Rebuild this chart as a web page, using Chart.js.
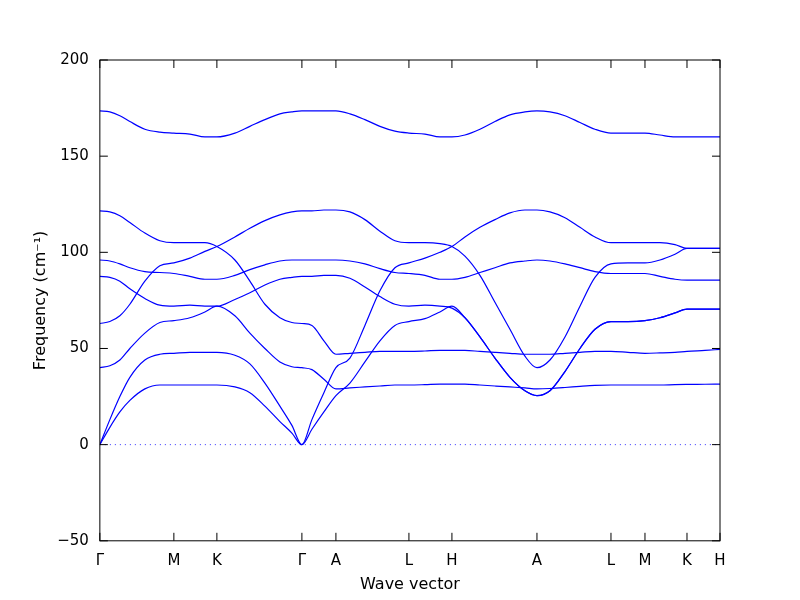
<!DOCTYPE html>
<html>
<head>
<meta charset="utf-8">
<script src="https://cdn.jsdelivr.net/npm/chart.js@4.4.0/dist/chart.umd.min.js"></script>
<style>
  html, body { margin: 0; padding: 0; background: #fff; }
  #wrap { width: 800px; height: 600px; }
</style>
</head>
<body>
<div id="wrap"><canvas id="bands"></canvas></div>
<script>
// high symmetry points along the path (x in path units)
const tickPos = [0, 74, 117, 202, 236, 309, 352, 437, 511, 545, 587, 620]
const tickLabels = ['Γ', 'M', 'K', 'Γ', 'A', 'L', 'H', 'A', 'L', 'M', 'K', 'H']

// sample positions along the path
const xs = [0, 10, 20, 30, 45, 60, 74, 90, 105, 117, 135, 150, 165, 180, 192, 202,
    212, 224, 236, 250, 265, 280, 295, 309, 325, 340, 352, 365, 380, 395, 410, 425, 437,
    450, 465, 480, 495, 511, 528, 545, 560, 575, 587, 605, 620]

// frequencies (cm^-1) for each band at xs
const band1 = [173.5, 173, 171, 168, 164, 162.5, 162, 161.5, 160, 160, 162, 165.5, 169, 172, 173, 173.5,
    173.5, 173.5, 173.5, 172, 169, 165.5, 163, 162, 161.5, 160, 160, 161, 164, 168, 171.5, 173, 173.5,
    173, 171, 167.5, 164, 162, 162, 162, 161, 160, 160, 160, 160]
const band2 = [121.5, 121, 119, 115.5, 110, 106, 105, 105, 105, 103, 96, 85, 73, 66, 63.5, 63,
    62, 54, 47, 47.5, 48, 48.5, 48.5, 48.5, 48.7, 49, 49, 49, 48.5, 48, 47.5, 47, 47,
    47, 47.5, 48, 48.5, 48.5, 48, 47.5, 47.7, 48, 48.5, 49, 49.5]
const band3 = [63, 64, 67, 73, 85, 93, 94.5, 97, 100.5, 103, 108, 112.5, 116.5, 119.5, 121, 121.5,
    121.5, 122, 122, 121, 117, 111, 106, 105, 105, 104.5, 103, 98, 88, 74, 60, 46, 40,
    44, 56, 72, 87, 94, 94.5, 94.5, 96, 99, 102, 102, 102]
const band4 = [96, 95.5, 94, 92, 90, 89.5, 89, 87.5, 86, 86, 88, 91, 93.5, 95.5, 96, 96,
    96, 96, 96, 95.5, 94, 91.5, 89.5, 89, 88, 86, 86, 87, 89.5, 92, 94.5, 95.5, 96,
    95.5, 94, 92, 90, 89, 89, 89, 87.5, 86, 85.5, 85.5, 85.5]
const band5 = [87.5, 87, 85, 81, 76, 72.5, 72, 72.5, 72, 72, 75.5, 79, 83, 86, 87, 87.5,
    87.5, 88, 88, 86.5, 82, 77, 73, 72, 72.5, 72, 71, 66, 56, 45, 35, 28, 25.5,
    28, 38, 50, 60, 64, 64, 64.5, 66, 68.5, 70.5, 70.5, 70.5]
const band6 = [40, 41, 44, 50, 58, 63.5, 64.5, 66, 69, 72, 67, 58, 50, 43, 40.5, 40,
    39, 34, 29, 29.5, 30, 30.5, 31, 31, 31.2, 31.5, 31.5, 31.5, 31, 30.5, 30, 29.5, 29,
    29.2, 29.7, 30.3, 30.8, 31, 31, 31, 31, 31.2, 31.3, 31.4, 31.5]
const acoustic1 = [0, 9, 17, 23, 29, 31, 31, 31, 31, 31, 30, 27, 20, 12, 6, 0,
    8, 17, 25.5, 32, 43, 54, 62, 64, 65.5, 69, 72, 66, 56, 45, 35, 28, 25.5,
    28, 38, 50, 60, 64, 64, 64.5, 66, 68.5, 70.5, 70.5, 70.5]
const acoustic2 = [0, 13, 25, 35, 44, 47, 47.5, 48, 48, 48, 46.5, 42, 32, 20, 10, 0,
    13, 27, 40, 45, 62, 80, 92, 94.5, 97, 100, 103, 108, 113, 117, 120.5, 122, 122,
    121, 118, 113, 108, 105, 105, 105, 105, 104, 102, 102, 102]

const bands = [band1, band2, band3, band4, band5, band6, acoustic1, acoustic2]

const datasets = bands.map(b => ({
    data: xs.map((x, i) => ({ x: x, y: b[i] })),
    borderColor: '#0000ff',
    borderWidth: 1.2,
    pointRadius: 0,
    fill: false,
    cubicInterpolationMode: 'monotone'
}))
// dotted zero line
datasets.push({
    data: [{ x: 0, y: 0 }, { x: 620, y: 0 }],
    borderColor: '#3333ff',
    borderWidth: 1,
    borderDash: [1, 4],
    pointRadius: 0,
    fill: false
})

// frame box with inward ticks like matplotlib
const frame = {
    id: 'frame',
    afterDraw(chart) {
        const { ctx, chartArea: a, scales } = chart
        ctx.save()
        ctx.strokeStyle = '#000'
        ctx.lineWidth = 1
        ctx.strokeRect(a.left, a.top, a.right - a.left, a.bottom - a.top)
        ctx.beginPath()
        scales.y.ticks.forEach(t => {
            const y = scales.y.getPixelForValue(t.value)
            ctx.moveTo(a.left, y); ctx.lineTo(a.left + 8, y)
            ctx.moveTo(a.right, y); ctx.lineTo(a.right - 8, y)
        })
        tickPos.forEach(p => {
            const x = scales.x.getPixelForValue(p)
            ctx.moveTo(x, a.bottom); ctx.lineTo(x, a.bottom - 8)
            ctx.moveTo(x, a.top); ctx.lineTo(x, a.top + 8)
        })
        ctx.stroke()
        ctx.restore()
    }
}

new Chart(document.getElementById('bands'), {
    type: 'line',
    data: { datasets: datasets },
    options: {
        responsive: true,
        maintainAspectRatio: false,
        animation: false,
        layout: { padding: { left: 27, right: 80, top: 60, bottom: 6 } },
        plugins: { legend: { display: false }, tooltip: { enabled: false } },
        scales: {
            x: {
                type: 'linear',
                min: 0,
                max: 620,
                afterBuildTicks: axis => { axis.ticks = tickPos.map(v => ({ value: v })) },
                ticks: {
                    autoSkip: false,
                    maxRotation: 0,
                    color: '#000',
                    font: { family: 'DejaVu Sans', size: 15 },
                    callback: (v, i) => tickLabels[i]
                },
                grid: { display: false },
                border: { display: false },
                title: { display: true, text: 'Wave vector', color: '#000', font: { family: 'DejaVu Sans', size: 16 }, padding: { top: 2, bottom: 0 } }
            },
            y: {
                min: -50,
                max: 200,
                ticks: { stepSize: 50, color: '#000', font: { family: 'DejaVu Sans', size: 15 },
                    callback: v => v < 0 ? '\u2212' + Math.abs(v) : v },
                grid: { display: false },
                border: { display: false },
                title: { display: true, text: 'Frequency (cm\u207B\u00B9)', color: '#000', font: { family: 'DejaVu Sans', size: 16 } }
            }
        }
    },
    plugins: [frame]
})
</script>
</body>
</html>
